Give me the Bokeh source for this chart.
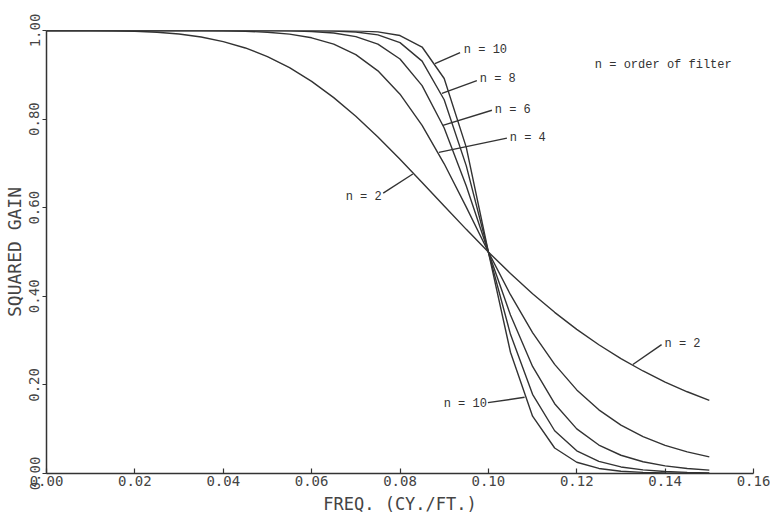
from bokeh.plotting import figure
from bokeh.models import Range1d, FixedTicker, PrintfTickFormatter, ColumnDataSource
from bokeh.core.properties import value
from bokeh.embed import file_html
from bokeh.resources import INLINE

# frequency (cy./ft.)
freq = [0.000, 0.005, 0.010, 0.015, 0.020, 0.025, 0.030, 0.035, 0.040, 0.045,
        0.050, 0.055, 0.060, 0.065, 0.070, 0.075, 0.080, 0.085, 0.090, 0.095,
        0.100, 0.105, 0.110, 0.115, 0.120, 0.125, 0.130, 0.135, 0.140, 0.145, 0.150]

# squared gain for each filter order
gain_n2 = [1.0000, 1.0000, 0.9999, 0.9995, 0.9984, 0.9961, 0.9920, 0.9852, 0.9750, 0.9606,
           0.9412, 0.9162, 0.8853, 0.8485, 0.8064, 0.7596, 0.7094, 0.6570, 0.6038, 0.5511,
           0.5000, 0.4514, 0.4058, 0.3638, 0.3254, 0.2906, 0.2593, 0.2314, 0.2065, 0.1845, 0.1649]
gain_n4 = [1.0000, 1.0000, 1.0000, 1.0000, 1.0000, 1.0000, 0.9999, 0.9998, 0.9993, 0.9983,
           0.9961, 0.9917, 0.9835, 0.9691, 0.9455, 0.9090, 0.8563, 0.7859, 0.6991, 0.6012,
           0.5000, 0.4036, 0.3181, 0.2464, 0.1887, 0.1437, 0.1092, 0.0831, 0.0635, 0.0487, 0.0376]
gain_n6 = [1.0000, 1.0000, 1.0000, 1.0000, 1.0000, 1.0000, 1.0000, 1.0000, 1.0000, 0.9999,
           0.9998, 0.9992, 0.9978, 0.9943, 0.9863, 0.9693, 0.9357, 0.8755, 0.7798, 0.6492,
           0.5000, 0.3577, 0.2416, 0.1575, 0.1008, 0.0643, 0.0412, 0.0266, 0.0173, 0.0114, 0.0076]
gain_n8 = [1.0000, 1.0000, 1.0000, 1.0000, 1.0000, 1.0000, 1.0000, 1.0000, 1.0000, 1.0000,
           1.0000, 0.9999, 0.9997, 0.9990, 0.9967, 0.9901, 0.9726, 0.9309, 0.8437, 0.6944,
           0.5000, 0.3142, 0.1787, 0.0965, 0.0513, 0.0274, 0.0148, 0.0082, 0.0046, 0.0026, 0.0015]
gain_n10 = [1.0000, 1.0000, 1.0000, 1.0000, 1.0000, 1.0000, 1.0000, 1.0000, 1.0000, 1.0000,
            1.0000, 1.0000, 1.0000, 0.9998, 0.9992, 0.9968, 0.9886, 0.9627, 0.8916, 0.7361,
            0.5000, 0.2737, 0.1294, 0.0576, 0.0254, 0.0114, 0.0052, 0.0025, 0.0012, 0.0006, 0.0003]

x_ticks = [0.00, 0.02, 0.04, 0.06, 0.08, 0.10, 0.12, 0.14, 0.16]
y_ticks = [0.0, 0.2, 0.4, 0.6, 0.8, 1.0]

# curve labels: text, label anchor, leader line (from curve point to label)
lab_text = ["n = 10", "n = 8", "n = 6", "n = 4", "n = 2", "n = 2", "n = 10"]
lab_x = [0.0940, 0.0976, 0.1010, 0.1044, 0.0754, 0.1394, 0.0992]
lab_y = [0.955, 0.890, 0.820, 0.757, 0.624, 0.293, 0.158]
lab_align = ["left", "left", "left", "left", "right", "left", "right"]
lead_x0 = [0.0879, 0.0895, 0.0897, 0.0888, 0.0829, 0.1327, 0.1082]
lead_y0 = [0.925, 0.858, 0.786, 0.725, 0.676, 0.246, 0.172]
lead_x1 = [0.0936, 0.0974, 0.1008, 0.1042, 0.0762, 0.1392, 0.0999]
lead_y1 = [0.950, 0.887, 0.820, 0.757, 0.633, 0.291, 0.160]

note_text = ["n = order of filter"]
note_x = [0.1241]
note_y = [0.921]

ink = "#333333"
axis_font = "DejaVu Sans Mono"
note_font = "Liberation Mono"

p = figure(width=770, height=516, output_backend="svg", toolbar_location=None,
           x_range=Range1d(0, 0.16), y_range=Range1d(0, 1.0),
           min_border_left=46, min_border_right=17, min_border_top=30, min_border_bottom=42)
p.background_fill_color = "white"
p.border_fill_color = "white"
p.outline_line_color = None
p.grid.visible = False

for g in [gain_n2, gain_n4, gain_n6, gain_n8, gain_n10]:
    p.line(freq, g, line_color=ink, line_width=1.4)

p.segment(x0=lead_x0, y0=lead_y0, x1=lead_x1, y1=lead_y1, line_color=ink, line_width=1.4)

src = ColumnDataSource(dict(x=lab_x, y=lab_y, t=lab_text, a=lab_align))
p.text(x="x", y="y", text="t", text_align="a", source=src, text_baseline="middle",
       text_font=value(note_font), text_font_size="12px", text_color=ink,
       x_offset=2)
p.text(x=note_x, y=note_y, text=note_text, text_align="left", text_baseline="middle",
       text_font=value(note_font), text_font_size="12px", text_color=ink)

p.xaxis.ticker = FixedTicker(ticks=x_ticks)
p.yaxis.ticker = FixedTicker(ticks=y_ticks)
p.xaxis.formatter = PrintfTickFormatter(format="%.2f")
p.yaxis.formatter = PrintfTickFormatter(format="%.2f")
p.xaxis.axis_label = "FREQ. (CY./FT.)"
p.yaxis.axis_label = "SQUARED GAIN"
p.yaxis.major_label_orientation = "vertical"

for ax in [p.xaxis[0], p.yaxis[0]]:
    ax.axis_line_color = ink
    ax.axis_line_width = 1.5
    ax.major_tick_line_color = ink
    ax.major_tick_line_width = 1.2
    ax.minor_tick_line_color = None
    ax.major_label_text_font = axis_font
    ax.major_label_text_font_size = "14px"
    ax.major_label_text_color = "#444444"
    ax.axis_label_text_font = axis_font
    ax.axis_label_text_font_style = "normal"
    ax.axis_label_text_color = "#444444"

p.xaxis.axis_label_text_font_size = "17px"
p.yaxis.axis_label_text_font_size = "18px"
p.xaxis.major_label_standoff = 2
p.xaxis.axis_label_standoff = 5
p.yaxis.major_label_standoff = 3
p.yaxis.axis_label_standoff = 2

p.xaxis.major_tick_in = 5
p.xaxis.major_tick_out = 0
p.yaxis.major_tick_in = 0
p.yaxis.major_tick_out = 4

open("out.html", "w").write(file_html(p, INLINE))
